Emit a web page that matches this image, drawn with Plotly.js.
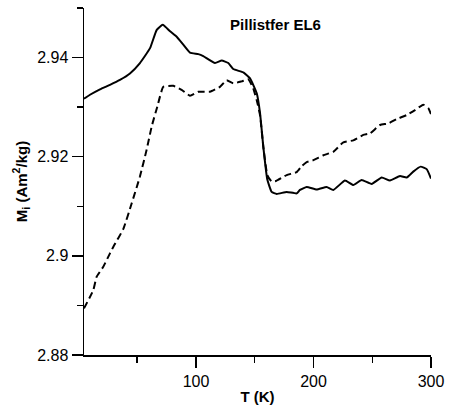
<!DOCTYPE html>
<html>
<head>
<meta charset="utf-8">
<script src="https://cdn.plot.ly/plotly-3.0.1.min.js"></script>
<style>html,body{margin:0;padding:0;background:#fff;}#chart{width:449px;height:414px;}</style>
</head>
<body>
<div id="chart"></div>
<script>
// Solid curve (first measurement)
const solidT = [4.7, 9.8, 18.3, 26.8, 35.3, 43.8, 52.3, 60.9, 66.6, 71.7, 77.9, 83.6, 89.2, 94.9, 102, 106.2, 116.2, 121.9, 127.5, 131.7, 140.3, 146, 151.7, 154.5, 157.3, 160.7, 164.4, 168.7, 177.2, 185.7, 188.5, 194.2, 202.7, 211.2, 216.9, 226.8, 233.9, 241, 249.5, 258, 265.1, 273.6, 279.3, 284.9, 291.2, 296.3, 300];
const solidM = [2.9317, 2.9325, 2.9336, 2.9345, 2.9355, 2.9368, 2.9389, 2.9419, 2.9456, 2.9466, 2.9453, 2.9442, 2.9426, 2.9410, 2.9407, 2.9403, 2.9389, 2.9394, 2.9389, 2.9377, 2.9370, 2.9358, 2.9328, 2.9288, 2.9220, 2.9154, 2.9129, 2.9125, 2.9129, 2.9126, 2.9133, 2.9139, 2.9134, 2.9139, 2.9133, 2.9152, 2.9143, 2.9153, 2.9145, 2.9158, 2.9152, 2.9161, 2.9158, 2.9170, 2.9180, 2.9175, 2.9156];
// Dashed curve (second measurement)
const dashT = [4.7, 12.6, 15.5, 21.1, 26.8, 29.6, 38.1, 45.3, 52.3, 58.0, 62.3, 67.1, 72.2, 80.7, 87.8, 94.9, 102, 111.9, 120.4, 126.1, 131.7, 138.9, 144.5, 148.7, 151.6, 154.5, 157.3, 160.7, 164.4, 168.1, 177.2, 185.7, 190, 194.2, 199.9, 208.4, 216.9, 225.4, 233.9, 242.4, 248.1, 256.6, 263.7, 270.8, 279.3, 286.4, 293.4, 297.7, 300];
const dashM = [2.8894, 2.8931, 2.8958, 2.8978, 2.9005, 2.9018, 2.9054, 2.9106, 2.9160, 2.9214, 2.9261, 2.9301, 2.9341, 2.9343, 2.9335, 2.9323, 2.9331, 2.9331, 2.9341, 2.9354, 2.9348, 2.9352, 2.9356, 2.9338, 2.9315, 2.9284, 2.9220, 2.9163, 2.9150, 2.9151, 2.9163, 2.9169, 2.9181, 2.9189, 2.9193, 2.9203, 2.9210, 2.9229, 2.9233, 2.9244, 2.9247, 2.9264, 2.9267, 2.9276, 2.9284, 2.9294, 2.9305, 2.9298, 2.9286];

const chartTitle = 'Pillistfer EL6';
const xTitle = 'T (K)';
const yTitle = 'M<sub>i</sub> (Am<sup>2</sup>/kg)';

const traces = [
  {x: solidT, y: solidM, mode: 'lines', line: {color: '#000', width: 2, shape: 'spline', smoothing: 0.4}, showlegend: false, hoverinfo: 'skip'},
  {x: dashT, y: dashM, mode: 'lines', line: {color: '#000', width: 2, dash: '7px,4px', shape: 'spline', smoothing: 0.4}, showlegend: false, hoverinfo: 'skip'}
];

const fontFam = 'Arial, "Liberation Sans", sans-serif';
const layout = {
  width: 449, height: 414,
  margin: {l: 84, r: 18, t: 8, b: 59},
  paper_bgcolor: '#fff', plot_bgcolor: '#fff',
  font: {family: fontFam, color: '#000', size: 15},
  title: {text: '<b>' + chartTitle + '</b>', font: {size: 15, family: fontFam, color: '#000'}, xref: 'container', yref: 'container', x: 0.6136, xanchor: 'center', y: 0.94, yanchor: 'middle'},
  xaxis: {
    range: [4.7, 300], tick0: 0, dtick: 100, ticks: 'outside', ticklen: 11, tickwidth: 1.5, tickcolor: '#000',
    showline: true, linecolor: '#000', linewidth: 1.5, showgrid: false, zeroline: false,
    minor: {dtick: 50, ticks: 'outside', ticklen: 6, tickwidth: 1.5, tickcolor: '#000', showgrid: false},
    tickfont: {size: 16},
    title: {text: '<b>' + xTitle + '</b>', font: {size: 15}, standoff: 3}
  },
  yaxis: {
    range: [2.88, 2.95], tick0: 2.88, dtick: 0.02, ticks: 'outside', ticklen: 11, tickwidth: 1.5, tickcolor: '#000',
    showline: true, linecolor: '#000', linewidth: 1.5, showgrid: false, zeroline: false,
    minor: {dtick: 0.01, ticks: 'outside', ticklen: 6, tickwidth: 1.5, tickcolor: '#000', showgrid: false},
    tickfont: {size: 16},
    title: {text: '<b>' + yTitle + '</b>', font: {size: 15}, standoff: 6}
  }
};

Plotly.newPlot('chart', traces, layout, {displayModeBar: false, staticPlot: true});
</script>
</body>
</html>
